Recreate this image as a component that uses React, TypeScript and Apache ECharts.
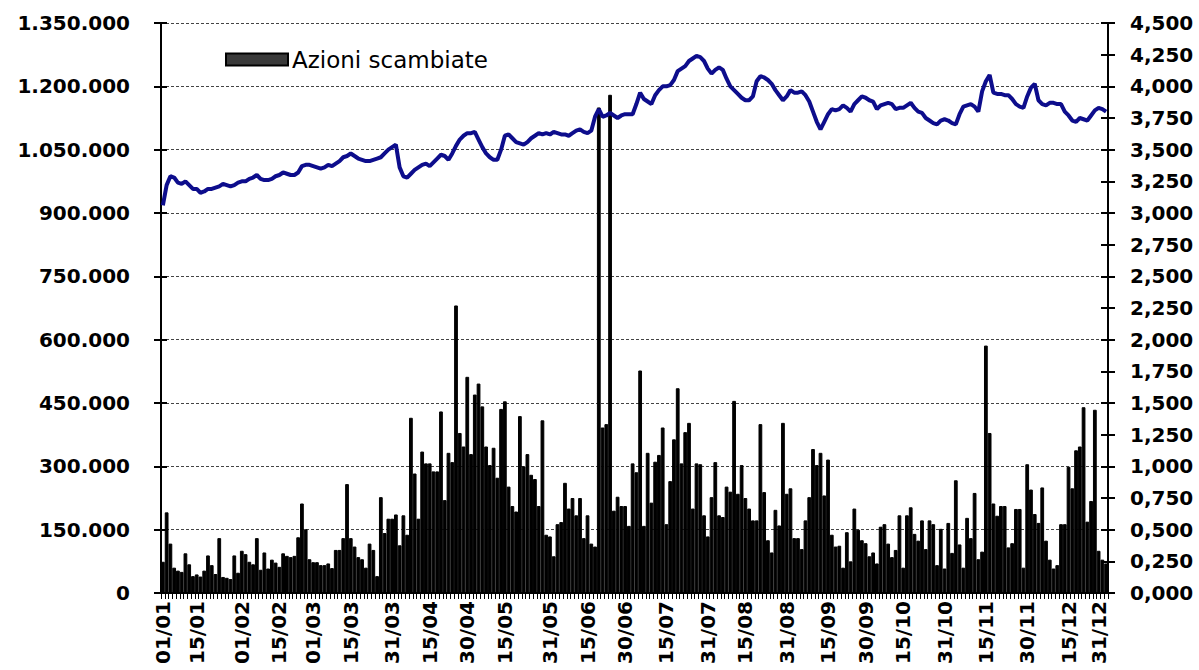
import React, { useEffect, useRef } from "react";
import * as echarts from "echarts";

// Shares traded per trading day (thousands)
const volumeThousands: number[] = [
  74, 191, 117, 60, 53, 50, 94, 68, 40, 44, 39, 53, 89, 66, 45, 130, 38, 36, 33, 89, 48, 100, 92, 74, 68, 130, 55, 96, 58, 79, 72, 62, 94, 88, 85, 88,
  132, 212, 151, 80, 73, 73, 66, 66, 70, 59, 102, 102, 130, 258, 130, 110, 85, 80, 60, 117, 102, 40, 227, 142, 176, 176, 186, 113, 184, 138, 415, 283, 176, 335, 307,
  307, 288, 288, 430, 220, 332, 310, 681, 379, 347, 512, 329, 470, 496, 442, 347, 303, 344, 273, 436, 454, 252, 206, 193, 419, 300, 329, 280, 270, 206, 409, 138, 134, 87, 163, 168, 261,
  200, 225, 184, 225, 130, 184, 117, 110, 1150, 392, 400, 1180, 195, 228, 206, 206, 159, 307, 286, 527, 159, 332, 214, 311, 327, 392, 163, 265, 364, 485, 307, 381, 403, 200, 307,
  305, 184, 134, 227, 310, 184, 180, 252, 240, 455, 235, 303, 225, 200, 172, 172, 400, 239, 125, 96, 197, 160, 403, 235, 248, 130, 130, 104, 172, 227, 341, 303, 332, 231, 316, 138,
  110, 112, 60, 144, 75, 200, 150, 125, 118, 87, 96, 70, 157, 163, 117, 85, 102, 184, 60, 184, 203, 140, 124, 172, 104, 172, 163, 66, 152, 58, 166, 95, 267, 115, 60, 178,
  130, 237, 80, 98, 586, 379, 212, 183, 206, 206, 108, 118, 199, 199, 60, 305, 245, 187, 166, 250, 124, 79, 58, 66, 163, 163, 299, 248, 338, 347, 440, 169, 218, 434, 100, 79, 70,
];
const volume = volumeThousands.map((v) => v * 1000);

// Share price (right axis)
const price: number[] = [
  3.06, 3.22, 3.29, 3.28, 3.24, 3.23, 3.25, 3.22, 3.19, 3.19, 3.16, 3.17, 3.19, 3.19, 3.2, 3.21, 3.23, 3.22, 3.21, 3.22, 3.24, 3.25, 3.25, 3.27, 3.28, 3.3, 3.27, 3.26, 3.26, 3.27, 3.29, 3.3, 3.32, 3.31, 3.3, 3.3,
  3.32, 3.37, 3.38, 3.38, 3.37, 3.36, 3.35, 3.36, 3.38, 3.37, 3.39, 3.41, 3.44, 3.45, 3.47, 3.45, 3.43, 3.42, 3.41, 3.41, 3.42, 3.43, 3.44, 3.47, 3.5, 3.52, 3.54, 3.36, 3.29, 3.28, 3.31, 3.34, 3.36, 3.38, 3.39,
  3.37, 3.4, 3.43, 3.46, 3.45, 3.42, 3.47, 3.53, 3.58, 3.61, 3.63, 3.63, 3.64, 3.58, 3.52, 3.47, 3.44, 3.42, 3.42, 3.5, 3.61, 3.62, 3.59, 3.56, 3.55, 3.54, 3.56, 3.59, 3.61, 3.63, 3.62, 3.63, 3.62, 3.64, 3.63, 3.62, 3.62,
  3.61, 3.63, 3.65, 3.66, 3.64, 3.63, 3.65, 3.76, 3.82, 3.76, 3.77, 3.79, 3.77, 3.75, 3.77, 3.78, 3.78, 3.78, 3.86, 3.95, 3.9, 3.88, 3.86, 3.93, 3.97, 4.0, 4.0, 4.01, 4.05, 4.12, 4.14, 4.16, 4.2, 4.22, 4.24,
  4.23, 4.2, 4.14, 4.1, 4.13, 4.15, 4.13, 4.06, 4.0, 3.97, 3.94, 3.91, 3.89, 3.89, 3.92, 4.04, 4.08, 4.07, 4.05, 4.02, 3.97, 3.93, 3.89, 3.92, 3.97, 3.95, 3.95, 3.96, 3.93, 3.88, 3.8, 3.72, 3.66, 3.72, 3.78, 3.82,
  3.81, 3.82, 3.85, 3.83, 3.8, 3.86, 3.89, 3.92, 3.91, 3.89, 3.88, 3.82, 3.85, 3.86, 3.87, 3.86, 3.82, 3.83, 3.83, 3.85, 3.87, 3.83, 3.8, 3.79, 3.75, 3.73, 3.71, 3.7, 3.73, 3.74, 3.73, 3.71, 3.7, 3.78, 3.84, 3.85,
  3.86, 3.84, 3.8, 3.96, 4.04, 4.09, 3.95, 3.94, 3.94, 3.93, 3.93, 3.9, 3.86, 3.84, 3.83, 3.92, 3.99, 4.02, 3.89, 3.86, 3.85, 3.87, 3.87, 3.86, 3.86, 3.8, 3.77, 3.73, 3.72, 3.75, 3.74, 3.73, 3.77, 3.81, 3.83, 3.82, 3.8,
];

// Trading-day index of each date label on the x axis
const tickLabels: string[] = [
  "01/01", "15/01", "01/02", "15/02", "01/03", "15/03", "31/03", "15/04", "30/04", "15/05", "31/05", "15/06", "30/06",
  "15/07", "31/07", "15/08", "31/08", "15/09", "30/09", "15/10", "31/10", "15/11", "30/11", "15/12", "31/12",
];
const tickIndex: number[] = [
  0, 9, 21, 31, 40, 50, 61, 71, 81, 91, 103, 113, 123,
  134, 145, 155, 166, 177, 187, 197, 208, 219, 230, 241, 249,
];

const categories = volume.map((_, i) => String(i + 1));
const labelAt = new Map<number, string>();
tickIndex.forEach((idx, k) => labelAt.set(idx, tickLabels[k]));

const FONT = "DejaVu Sans";
const fmtThousands = (v: number) => String(Math.round(v)).replace(/\B(?=(\d{3})+(?!\d))/g, ".");
const fmtPrice = (v: number) => v.toFixed(3).replace(".", ",");

export default function App() {
  const ref = useRef<HTMLDivElement>(null);
  useEffect(() => {
    const chart = echarts.init(ref.current!, null, { renderer: "svg" });
    const labelStyle = {
      fontFamily: FONT,
      fontWeight: "bold" as const,
      fontSize: 20,
      color: "#000",
    };
    chart.setOption({
      animation: false,
      backgroundColor: "#fff",
      grid: {
        left: 161,
        right: 91,
        top: 23,
        bottom: 77,
        containLabel: false,
        outerBoundsMode: "none",
      },
      legend: {
        left: 225,
        top: 48,
        padding: 0,
        itemWidth: 62,
        itemHeight: 12,
        itemGap: 4,
        selectedMode: false,
        textStyle: { fontFamily: FONT, fontSize: 23, color: "#000", padding: [0, 0, 0, -1] },
        data: [
          {
            name: "Azioni scambiate",
            icon: "rect",
            itemStyle: { color: "#3a3a3a", borderColor: "#000", borderWidth: 2 },
          },
        ],
      },
      xAxis: {
        type: "category",
        data: categories,
        boundaryGap: true,
        axisLine: { show: true, onZero: false, lineStyle: { color: "#000", width: 2 } },
        axisTick: { show: true, interval: 0, length: 6, lineStyle: { color: "#000", width: 1 } },
        axisLabel: {
          ...labelStyle,
          rotate: 90,
          margin: 8,
          interval: (index: number) => labelAt.has(index),
          formatter: (_v: string, index: number) => labelAt.get(index) ?? "",
        },
        splitLine: { show: false },
      },
      yAxis: [
        {
          type: "value",
          position: "left",
          min: 0,
          max: 1350000,
          interval: 150000,
          axisLine: { show: true, lineStyle: { color: "#000", width: 2 } },
          axisTick: { show: true, length: 7, lineStyle: { color: "#000", width: 2 } },
          axisLabel: { ...labelStyle, margin: 31, formatter: fmtThousands },
          splitLine: { show: true, lineStyle: { color: "#444", width: 1, type: [3, 2] } },
        },
        {
          type: "value",
          position: "right",
          min: 0,
          max: 4.5,
          interval: 0.25,
          axisLine: { show: true, lineStyle: { color: "#000", width: 2 } },
          axisTick: { show: true, length: 7, lineStyle: { color: "#000", width: 2 } },
          axisLabel: { ...labelStyle, margin: 22, formatter: fmtPrice },
          splitLine: { show: false },
        },
        {
          type: "value",
          position: "right",
          min: 0,
          max: 4.5,
          interval: 0.25,
          axisLine: { show: false },
          axisTick: { show: true, inside: true, length: 7, lineStyle: { color: "#000", width: 2 } },
          axisLabel: { show: false },
          splitLine: { show: false },
        },
        {
          type: "value",
          position: "left",
          min: 0,
          max: 1350000,
          interval: 150000,
          axisLine: { show: false },
          axisTick: { show: true, inside: true, length: 6, lineStyle: { color: "#000", width: 2 } },
          axisLabel: { show: false },
          splitLine: { show: false },
        },
      ],
      series: [
        {
          name: "Azioni scambiate",
          type: "bar",
          data: volume,
          xAxisIndex: 0,
          yAxisIndex: 0,
          barWidth: "100%",
          barCategoryGap: "0%",
          itemStyle: { color: "#000", borderColor: "#000", borderWidth: 1 },
          z: 2,
        },
        {
          name: "Prezzo",
          type: "line",
          data: price,
          xAxisIndex: 0,
          yAxisIndex: 1,
          symbol: "none",
          lineStyle: { color: "#0d0d8c", width: 4 },
          z: 5,
        },
      ],
    });
    return () => chart.dispose();
  }, []);
  return (
    <div
      ref={ref}
      style={{ position: "fixed", left: 0, top: 0, width: 1199, height: 670, background: "#fff" }}
    />
  );
}
